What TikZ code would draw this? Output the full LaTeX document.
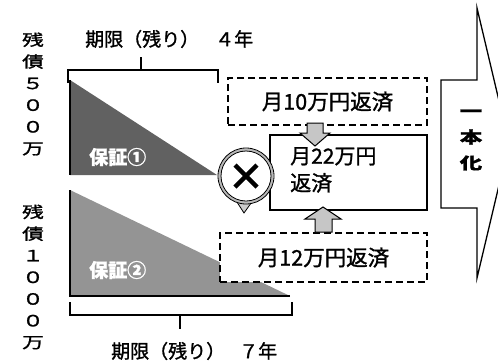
\documentclass[tikz,border=0pt]{standalone}
\usepackage{graphicx}
\usepackage{fontspec}
\setmainfont{Noto Sans CJK JP}[FakeBold=1.2]
\newcommand\wch[1]{\scalebox{1.4}[1]{#1}}
\begin{document}
\begin{tikzpicture}[x=1pt,y=-1pt,
  vtext/.style={font=\fontsize{15.5}{21.7}\selectfont, align=center, inner sep=0pt},
  lbl/.style={font=\fontsize{19}{22}\selectfont, inner sep=0pt, anchor=west},
  gtext/.style={font=\fontsize{19}{22}\selectfont\bfseries, text=white, inner sep=0pt, anchor=west},
  dbox/.style={draw, dashed, dash pattern=on 7pt off 4pt, line width=1.3pt, fill=white},
  sbox/.style={draw, line width=1.3pt, fill=white},
  btext/.style={font=\fontsize{21.5}{26}\selectfont, inner sep=0pt},
  brace/.style={line width=1.5pt},
  blockarrow/.style={draw, line width=1pt, fill=gray!45}]
\useasboundingbox (0,0) rectangle (498,362);
\clip (0,0) rectangle (498,362);

% left vertical labels
\node[vtext] (d1) at (33,94) {\wch{残}\\\wch{債}\\\wch{５}\\\wch{０}\\\wch{０}\\\wch{万}};
\node[vtext] (d2) at (33,277) {\wch{残}\\\wch{債}\\\wch{１}\\\wch{０}\\\wch{０}\\\wch{０}\\\wch{万}};

% top label and brace
\node[lbl] (top) at (85,39) {期限（残り）\hspace{16pt}４年};
\coordinate (tb1) at (68,83);
\coordinate (tb2) at (218,83);
\coordinate (tt) at (141,57);
\draw[brace] (tb1) -- (68,70) -- (218,70) -- (tb2);
\draw[brace] (141,70) -- (tt);

% triangles
\fill[black!62] (70,80) -- (70,175) -- (217,175) -- cycle;
\draw[line width=1.8pt] (70,80) -- (70,175);
\fill[black!42] (70,190) -- (70,296) -- (290,296) -- cycle;
\draw[line width=1.8pt] (70,190) -- (70,296) -- (290,296);
\node[gtext] (g1) at (89,157) {保証①};
\node[gtext] (g2) at (89,270) {保証②};

% bottom brace and label
\coordinate (bb1) at (70,302);
\coordinate (bb2) at (292,302);
\coordinate (bt) at (180,329);
\draw[brace] (bb1) -- (70,315) -- (292,315) -- (bb2);
\draw[brace] (180,315) -- (bt);
\node[lbl] (bot) at (111,351) {期限（残り）\hspace{14pt}７年};

% boxes
\node[dbox, minimum width=199pt, minimum height=47pt] (b10) at (327.5,101.5) {};
\node[btext] at (b10.center) {月10万円返済};
\node[sbox, minimum width=157pt, minimum height=75pt] (b22) at (348.5,172.5) {};
\node[btext, align=left, anchor=north west, font=\fontsize{21}{27}\selectfont] (t22) at (290,147) {月22万円\\返済};
\node[dbox, minimum width=207pt, minimum height=49pt] (b12) at (323.5,257.5) {};
\node[btext] at (b12.center) {月12万円返済};

% block arrows
\draw[blockarrow] (307,123) -- (323,123) -- (323,133) -- (330,133) -- (315,146) -- (300,133) -- (307,133) -- cycle;
\draw[blockarrow] (315,232) -- (332,232) -- (332,219) -- (341,219) -- (323,207) -- (305,219) -- (315,219) -- cycle;

% cross bubble
\draw[line width=0.8pt, fill=gray!40] (235,199) -- (244,213) -- (254,199);
\draw[line width=2.5pt, draw=gray!55, fill=white] (246,176) circle (26.5);
\draw[line width=0.8pt] (246,176) circle (28);
\draw[line width=0.8pt] (246,176) circle (25);
\draw[line width=4.5pt] (235,165) -- (257,187);
\draw[line width=4.5pt] (257,165) -- (235,187);

% big right arrow
\draw[line width=1.3pt, fill=white] (441,80) -- (477,80) -- (477,8) -- (509,143) -- (477,278) -- (477,208) -- (441,208) -- cycle;
\node[vtext, font=\fontsize{16}{26}\selectfont\bfseries] (one) at (471,140) {\wch{一}\\\wch{本}\\\wch{化}};
\end{tikzpicture}
\end{document}
